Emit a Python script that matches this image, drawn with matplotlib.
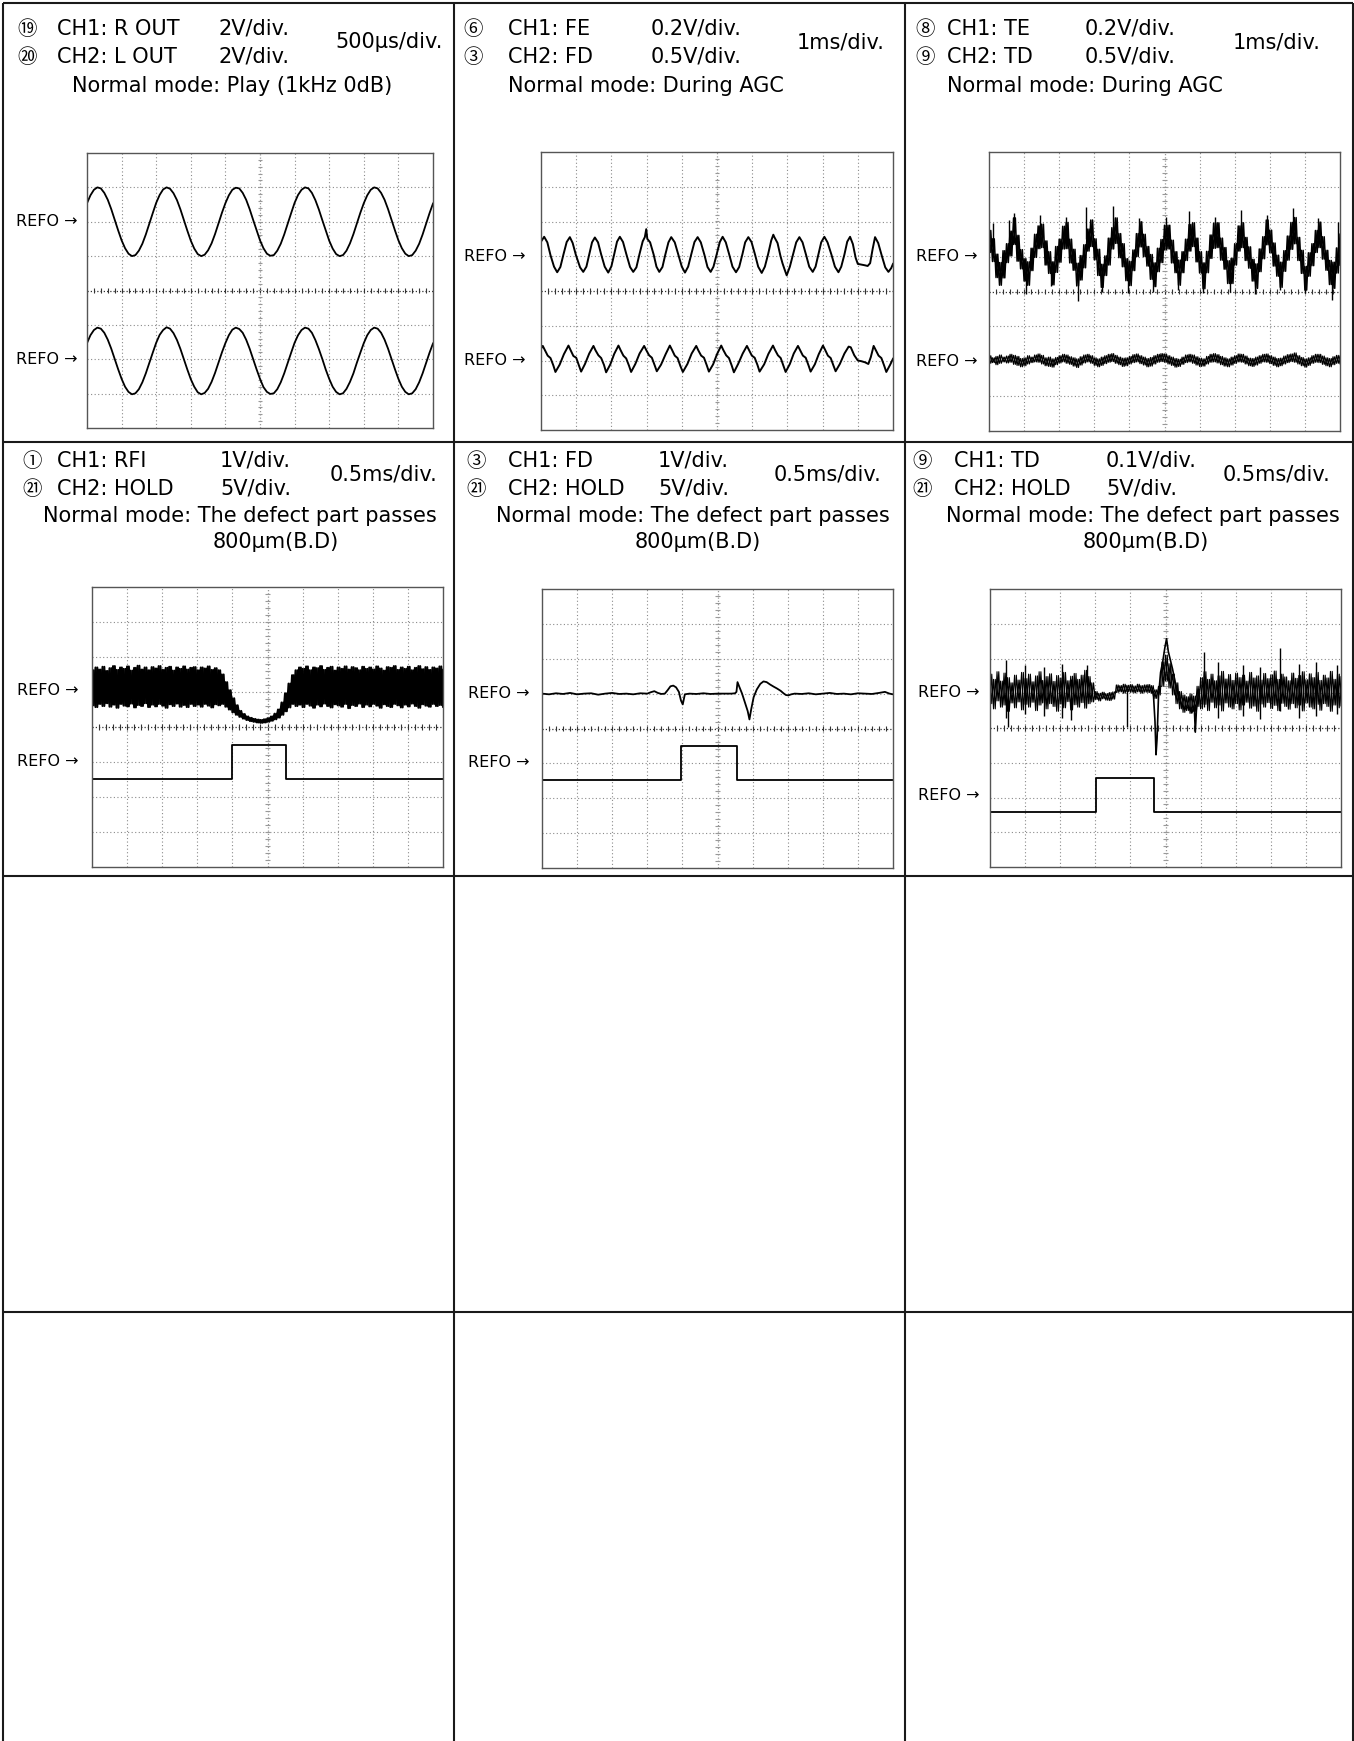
import numpy as np
import matplotlib
matplotlib.use("Agg")
from matplotlib import pyplot as plt

W, H = 1354, 1741

# ---------------- data (screen units: x 0..10 div, y -4..4 div) ----------------
# cell 1 : R OUT / L OUT, samples every 0.1 div
play_r = [2.54, 2.77, 2.93, 3.00, 2.97, 2.84, 2.64, 2.37, 2.06, 1.75, 1.46, 1.23, 1.07, 1.00, 1.03, 1.16, 1.36, 1.63, 1.94, 2.25,
          2.55, 2.78, 2.94, 3.00, 2.96, 2.83, 2.63, 2.36, 2.05, 1.74, 1.45, 1.22, 1.06, 1.00, 1.04, 1.17, 1.37, 1.64, 1.95, 2.26,
          2.54, 2.77, 2.93, 2.99, 2.97, 2.84, 2.64, 2.37, 2.06, 1.76, 1.46, 1.23, 1.07, 1.01, 1.03, 1.16, 1.36, 1.63, 1.94, 2.25,
          2.55, 2.78, 2.93, 3.00, 2.97, 2.84, 2.63, 2.36, 2.05, 1.75, 1.45, 1.22, 1.06, 1.00, 1.03, 1.16, 1.37, 1.64, 1.95, 2.26,
          2.54, 2.77, 2.93, 3.00, 2.97, 2.84, 2.64, 2.37, 2.06, 1.75, 1.46, 1.23, 1.07, 1.00, 1.03, 1.16, 1.36, 1.63, 1.94, 2.25,
          2.53]
play_l = [-1.53, -1.30, -1.15, -1.08, -1.11, -1.23, -1.43, -1.69, -1.99, -2.29, -2.57, -2.80, -2.95, -3.02, -2.99, -2.87, -2.67, -2.41, -2.11, -1.81,
          -1.52, -1.29, -1.15, -1.07, -1.11, -1.24, -1.44, -1.70, -2.00, -2.30, -2.58, -2.80, -2.96, -3.02, -2.98, -2.86, -2.66, -2.40, -2.10, -1.80,
          -1.53, -1.30, -1.14, -1.08, -1.12, -1.23, -1.43, -1.69, -1.99, -2.29, -2.57, -2.81, -2.95, -3.01, -2.99, -2.87, -2.67, -2.41, -2.11, -1.81,
          -1.52, -1.30, -1.15, -1.08, -1.11, -1.23, -1.44, -1.70, -1.99, -2.30, -2.57, -2.80, -2.95, -3.02, -2.99, -2.86, -2.66, -2.41, -2.10, -1.81,
          -1.53, -1.30, -1.15, -1.08, -1.11, -1.23, -1.43, -1.69, -1.99, -2.29, -2.57, -2.80, -2.95, -3.02, -2.99, -2.87, -2.67, -2.41, -2.11, -1.81,
          -1.54]

# cell 2 : FE (top) and FD (bottom) during AGC
fe_x = [0.00, 0.09, 0.18, 0.27, 0.37, 0.46, 0.55, 0.64, 0.73,
        0.82, 0.90, 0.99, 1.11, 1.20, 1.29, 1.37, 1.45,
        1.53, 1.62, 1.71, 1.81, 1.91, 2.00, 2.08, 2.16,
        2.24, 2.33, 2.43, 2.53, 2.62, 2.71, 2.80, 2.89,
        2.95, 2.99, 3.02, 3.10, 3.20, 3.28, 3.36, 3.45, 3.53, 3.62,
        3.70, 3.80, 3.90, 4.00, 4.09, 4.18, 4.27, 4.36,
        4.45, 4.54, 4.64, 4.73, 4.82, 4.90, 4.99, 5.08,
        5.16, 5.25, 5.35, 5.44, 5.54, 5.63, 5.72, 5.80,
        5.89, 5.98, 6.08, 6.17, 6.27, 6.36, 6.45, 6.54,
        6.60, 6.63, 6.72, 6.80, 6.86, 6.92, 6.98, 7.07, 7.16, 7.25,
        7.34, 7.43, 7.53, 7.62, 7.72, 7.80, 7.88, 7.96,
        8.05, 8.14, 8.25, 8.35, 8.45, 8.53, 8.62, 8.70,
        8.78, 8.86, 8.94, 9.00, 9.10, 9.20, 9.28, 9.35, 9.42,
        9.49, 9.58, 9.68, 9.78, 9.87, 9.95, 10.00]
fe_y = [1.42, 1.56, 1.40, 1.03, 0.70, 0.54, 0.69, 1.06, 1.41,
        1.55, 1.38, 1.04, 0.68, 0.55, 0.70, 1.05, 1.40,
        1.54, 1.40, 1.05, 0.70, 0.53, 0.71, 1.06, 1.42,
        1.56, 1.41, 1.04, 0.69, 0.55, 0.68, 1.07, 1.43,
        1.55, 1.78, 1.50, 1.40, 1.05, 0.70, 0.55, 0.69, 1.04, 1.40,
        1.55, 1.40, 1.05, 0.70, 0.53, 0.70, 1.06, 1.41,
        1.55, 1.40, 1.05, 0.69, 0.55, 0.70, 1.05, 1.41,
        1.56, 1.40, 1.04, 0.70, 0.54, 0.69, 1.05, 1.40,
        1.55, 1.41, 1.05, 0.70, 0.52, 0.70, 1.05, 1.45,
        1.62, 1.55, 1.38, 1.02, 0.80, 0.62, 0.45, 0.70, 1.05, 1.40,
        1.55, 1.40, 1.04, 0.70, 0.55, 0.70, 1.05, 1.40,
        1.56, 1.40, 1.05, 0.70, 0.54, 0.70, 1.05, 1.42,
        1.56, 1.35, 0.95, 0.78, 0.76, 0.74, 0.72, 0.80, 1.20,
        1.55, 1.38, 1.02, 0.68, 0.55, 0.66, 0.78]
fd_x = [0.00, 0.05, 0.11, 0.19, 0.27, 0.35, 0.41, 0.53, 0.65,
        0.78, 0.84, 0.92, 1.00, 1.08, 1.14, 1.25, 1.37,
        1.49, 1.55, 1.63, 1.71, 1.79, 1.85, 1.97, 2.08,
        2.20, 2.26, 2.34, 2.42, 2.50, 2.56, 2.68, 2.80,
        2.93, 2.99, 3.07, 3.15, 3.23, 3.29, 3.41, 3.54,
        3.66, 3.72, 3.80, 3.88, 3.96, 4.03, 4.16, 4.28,
        4.41, 4.47, 4.55, 4.63, 4.71, 4.77, 4.89, 5.00,
        5.12, 5.18, 5.26, 5.34, 5.42, 5.48, 5.60, 5.73,
        5.85, 5.91, 5.99, 6.07, 6.15, 6.21, 6.34, 6.46,
        6.59, 6.65, 6.73, 6.81, 6.89, 6.95, 7.07, 7.18,
        7.30, 7.36, 7.44, 7.52, 7.60, 7.66, 7.78, 7.89,
        8.01, 8.07, 8.15, 8.23, 8.31, 8.37, 8.49, 8.62,
        8.74, 8.80, 8.90, 9.00, 9.10, 9.20, 9.30, 9.37,
        9.45, 9.51, 9.59, 9.67, 9.75, 9.81, 9.92, 10.00]
fd_y = [-1.66, -1.58, -1.70, -1.86, -1.93, -2.14, -2.33, -2.12, -1.82,
        -1.57, -1.70, -1.87, -1.92, -2.15, -2.32, -2.10, -1.80,
        -1.58, -1.71, -1.85, -1.93, -2.13, -2.34, -2.11, -1.81,
        -1.57, -1.70, -1.86, -1.94, -2.15, -2.33, -2.10, -1.80,
        -1.58, -1.70, -1.85, -1.92, -2.14, -2.31, -2.12, -1.82,
        -1.57, -1.69, -1.86, -1.93, -2.16, -2.33, -2.10, -1.80,
        -1.58, -1.71, -1.86, -1.92, -2.14, -2.32, -2.11, -1.82,
        -1.57, -1.70, -1.85, -1.93, -2.15, -2.34, -2.10, -1.80,
        -1.58, -1.70, -1.86, -1.92, -2.13, -2.32, -2.11, -1.81,
        -1.57, -1.70, -1.85, -1.93, -2.16, -2.33, -2.10, -1.80,
        -1.58, -1.70, -1.86, -1.92, -2.14, -2.32, -2.11, -1.82,
        -1.57, -1.69, -1.86, -1.93, -2.15, -2.31, -2.10, -1.80,
        -1.60, -1.62, -1.85, -2.00, -2.02, -2.05, -2.10, -1.90,
        -1.58, -1.70, -1.86, -1.93, -2.15, -2.33, -2.12, -1.95]

# cell 3 : TE (noisy, top) and TD (bottom) - upper / lower noise envelope every 0.1 div
te_hi = [1.75, 1.51, 1.07, 0.83, 1.17, 1.37, 1.73, 2.11, 1.61, 1.20,
         0.94, 0.85, 1.24, 1.64, 1.88, 1.93, 1.45, 1.14, 0.85, 1.29,
         1.50, 1.87, 1.98, 1.50, 1.21, 0.81, 1.03, 1.34, 1.79, 2.05,
         1.51, 1.21, 0.78, 1.02, 1.53, 1.83, 2.11, 1.66, 1.37, 0.94,
         0.86, 1.19, 1.66, 2.00, 1.64, 1.29, 1.06, 0.82, 1.24, 1.49,
         1.90, 1.90, 1.47, 1.14, 0.90, 1.14, 1.50, 1.92, 1.97, 1.53,
         1.14, 0.82, 1.15, 1.62, 1.96, 1.97, 1.53, 1.26, 0.88, 0.95,
         1.37, 1.88, 1.97, 1.55, 1.28, 0.92, 0.79, 1.22, 1.57, 2.05,
         1.76, 1.39, 1.04, 0.84, 1.17, 1.59, 1.98, 2.12, 1.55, 1.18,
         0.72, 1.11, 1.37, 1.75, 1.99, 1.57, 1.18, 0.89, 0.84, 1.25, 1.65]
te_lo = [1.12, 0.86, 0.40, 0.18, 0.39, 0.83, 1.02, 1.35, 0.87, 0.65,
         0.30, 0.18, 0.60, 0.98, 1.23, 1.26, 0.76, 0.52, 0.19, 0.55,
         0.84, 1.22, 1.23, 0.82, 0.61, 0.16, 0.33, 0.68, 1.16, 1.29,
         0.91, 0.46, 0.12, 0.46, 0.76, 1.22, 1.38, 0.97, 0.71, 0.31,
         0.17, 0.60, 1.00, 1.28, 1.00, 0.73, 0.35, 0.14, 0.57, 0.83,
         1.20, 1.22, 0.82, 0.54, 0.18, 0.54, 0.89, 1.16, 1.29, 0.85,
         0.53, 0.08, 0.54, 0.95, 1.24, 1.26, 0.90, 0.64, 0.23, 0.23,
         0.76, 1.16, 1.26, 0.89, 0.67, 0.30, 0.09, 0.57, 0.94, 1.34,
         1.11, 0.73, 0.44, 0.12, 0.58, 0.90, 1.21, 1.37, 0.89, 0.52,
         0.04, 0.44, 0.74, 1.12, 1.26, 0.93, 0.61, 0.20, 0.09, 0.53, 0.75]
te_spike_x = [0.12, 0.58, 0.72, 1.05, 1.45, 1.78, 2.18, 2.54, 2.75, 3.21, 3.52, 3.97, 4.28, 4.68, 5.04,
              5.39, 5.70, 6.10, 6.44, 6.86, 7.18, 7.58, 7.91, 8.29, 8.67, 9.00, 9.38, 9.76, 9.95]
te_spike_lo = [1.00, 1.10, 1.40, -0.08, 1.40, 0.15, 1.50, -0.28, 1.50, 0.00, 1.60, -0.05, 1.50, 0.00, 1.60,
               0.05, 1.50, -0.05, 1.60, 0.00, 1.60, -0.08, 1.60, 0.05, 1.60, -0.05, 1.50, -0.25, 1.00]
te_spike_hi = [1.95, 2.05, 2.25, 0.50, 2.20, 0.70, 2.15, 0.40, 2.42, 0.60, 2.45, 0.50, 2.10, 0.50, 2.15,
               0.60, 2.30, 0.50, 2.15, 0.50, 2.35, 0.50, 2.20, 0.60, 2.38, 0.50, 2.10, 0.40, 2.00]
td_hi = [-1.84, -1.90, -1.86, -1.82, -1.88, -1.85, -1.80, -1.83, -1.86, -1.92,
         -1.90, -1.84, -1.88, -1.82, -1.79, -1.83, -1.90, -1.88, -1.93, -1.89,
         -1.84, -1.80, -1.82, -1.87, -1.90, -1.93, -1.87, -1.82, -1.80, -1.84,
         -1.90, -1.93, -1.88, -1.84, -1.80, -1.78, -1.83, -1.88, -1.91, -1.90,
         -1.86, -1.81, -1.79, -1.84, -1.88, -1.92, -1.89, -1.84, -1.80, -1.78,
         -1.79, -1.84, -1.88, -1.92, -1.94, -1.88, -1.82, -1.80, -1.82, -1.87,
         -1.91, -1.93, -1.86, -1.80, -1.78, -1.81, -1.86, -1.90, -1.93, -1.88,
         -1.84, -1.79, -1.80, -1.85, -1.91, -1.92, -1.88, -1.84, -1.80, -1.79,
         -1.84, -1.88, -1.92, -1.91, -1.85, -1.81, -1.79, -1.76, -1.84, -1.89,
         -1.93, -1.90, -1.84, -1.80, -1.80, -1.85, -1.90, -1.92, -1.87, -1.83, -1.84]
td_lo = [-2.06, -2.04, -2.10, -2.06, -2.02, -2.05, -2.03, -2.09, -2.12, -2.16,
         -2.13, -2.08, -2.04, -2.02, -2.03, -2.08, -2.13, -2.15, -2.17, -2.10,
         -2.05, -2.02, -2.06, -2.09, -2.14, -2.18, -2.11, -2.05, -2.02, -2.06,
         -2.12, -2.16, -2.12, -2.07, -2.03, -2.01, -2.06, -2.10, -2.15, -2.13,
         -2.08, -2.04, -2.02, -2.07, -2.11, -2.16, -2.14, -2.08, -2.03, -2.01,
         -2.03, -2.08, -2.12, -2.17, -2.15, -2.09, -2.04, -2.02, -2.06, -2.11,
         -2.15, -2.14, -2.08, -2.03, -2.02, -2.05, -2.10, -2.14, -2.16, -2.11,
         -2.06, -2.02, -2.03, -2.08, -2.13, -2.15, -2.11, -2.06, -2.02, -2.03,
         -2.07, -2.12, -2.16, -2.13, -2.08, -2.04, -2.01, -2.03, -2.08, -2.13,
         -2.17, -2.12, -2.06, -2.03, -2.04, -2.09, -2.13, -2.16, -2.10, -2.06, -2.08]

# cell 4 : RFI envelope (every 0.1 div) and HOLD
rfi_hi = [1.62, 1.70, 1.64, 1.72, 1.60, 1.68, 1.74, 1.63, 1.70, 1.66,
          1.73, 1.61, 1.69, 1.75, 1.64, 1.70, 1.62, 1.71, 1.67, 1.74,
          1.63, 1.69, 1.72, 1.61, 1.70, 1.66, 1.73, 1.64, 1.69, 1.71,
          1.62, 1.70, 1.67, 1.73, 1.63, 1.68, 1.62, 1.50, 1.28, 1.05,
          0.82, 0.62, 0.46, 0.37, 0.30, 0.26, 0.23, 0.21, 0.20, 0.22,
          0.25, 0.30, 0.38, 0.50, 0.70, 0.96, 1.24, 1.48, 1.62, 1.70,
          1.66, 1.73, 1.62, 1.70, 1.68, 1.74, 1.63, 1.69, 1.72, 1.61,
          1.70, 1.66, 1.73, 1.64, 1.71, 1.68, 1.62, 1.72, 1.66, 1.70,
          1.64, 1.73, 1.67, 1.61, 1.71, 1.69, 1.74, 1.63, 1.70, 1.66,
          1.72, 1.62, 1.69, 1.74, 1.65, 1.71, 1.63, 1.70, 1.67, 1.73, 1.64]
rfi_lo = [0.62, 0.57, 0.66, 0.60, 0.68, 0.58, 0.64, 0.55, 0.66, 0.61,
          0.59, 0.67, 0.56, 0.63, 0.60, 0.68, 0.57, 0.64, 0.59, 0.66,
          0.61, 0.55, 0.65, 0.60, 0.67, 0.58, 0.63, 0.57, 0.66, 0.60,
          0.64, 0.58, 0.66, 0.61, 0.56, 0.65, 0.62, 0.66, 0.58, 0.50,
          0.42, 0.35, 0.29, 0.24, 0.20, 0.17, 0.15, 0.13, 0.12, 0.13,
          0.15, 0.18, 0.22, 0.27, 0.35, 0.45, 0.56, 0.66, 0.60, 0.64,
          0.57, 0.66, 0.61, 0.55, 0.64, 0.59, 0.67, 0.60, 0.56, 0.65,
          0.62, 0.58, 0.66, 0.54, 0.63, 0.60, 0.67, 0.57, 0.64, 0.59,
          0.66, 0.61, 0.55, 0.65, 0.60, 0.57, 0.66, 0.62, 0.56, 0.64,
          0.59, 0.67, 0.60, 0.55, 0.65, 0.61, 0.58, 0.66, 0.60, 0.63, 0.57]
hold_rfi = (3.99, 5.53, -1.49, -0.51)   # rise, fall, low, high

# cell 5 : FD when the defect passes
fd2_x = [0.0, 0.2, 0.4, 0.6, 0.8, 1.0, 1.2, 1.4, 1.6, 1.8,
         2.0, 2.2, 2.4, 2.6, 2.8, 3.0, 3.1, 3.2, 3.3, 3.4,
         3.5, 3.58, 3.66, 3.74, 3.82, 3.90, 3.96, 4.01, 4.07, 4.2,
         4.4, 4.6, 4.8, 5.0, 5.2, 5.4, 5.50, 5.54, 5.57, 5.62,
         5.70, 5.78, 5.86, 5.91, 5.96, 6.03, 6.12, 6.22, 6.31, 6.40,
         6.50, 6.60, 6.69, 6.80, 6.88, 6.95, 7.02, 7.10, 7.2, 7.4,
         7.6, 7.8, 8.0, 8.2, 8.4, 8.6, 8.8, 9.0, 9.2, 9.4,
         9.6, 9.77, 9.9, 10.0]
fd2_y = [1.00, 0.98, 1.01, 0.99, 1.02, 0.98, 1.00, 1.01, 0.97, 1.00,
         1.02, 0.99, 1.00, 0.98, 1.01, 1.00, 1.04, 1.07, 1.02, 0.99,
         1.00, 1.10, 1.21, 1.23, 1.18, 1.05, 0.80, 0.69, 0.98, 1.00,
         0.99, 1.01, 0.99, 1.00, 1.00, 1.00, 1.01, 1.05, 1.33, 1.20,
         1.00, 0.75, 0.50, 0.26, 0.55, 0.90, 1.12, 1.28, 1.35, 1.33,
         1.26, 1.20, 1.15, 1.08, 1.01, 0.96, 0.95, 0.98, 1.00, 0.99,
         1.01, 0.98, 1.00, 1.02, 0.99, 1.00, 0.98, 1.01, 1.00, 0.99,
         1.02, 1.05, 1.00, 0.98]
hold_fd = (3.96, 5.55, -1.48, -0.51)

# cell 6 : TD when the defect passes
td2_hi = [1.55, 1.40, 1.62, 1.35, 1.58, 1.45, 1.30, 1.52, 1.38, 1.60,
          1.42, 1.55, 1.33, 1.50, 1.62, 1.37, 1.48, 1.56, 1.34, 1.51,
          1.44, 1.60, 1.36, 1.49, 1.57, 1.40, 1.52, 1.66, 1.48, 1.30,
          1.05, 1.00, 1.03, 0.99, 1.02, 1.04, 1.24, 1.22, 1.26, 1.23,
          1.25, 1.21, 1.26, 1.22, 1.24, 1.25, 1.22, 1.10, 1.20, 1.90,
          2.10, 1.85, 1.55, 1.30, 1.05, 0.95, 0.90, 0.98, 0.92, 1.20,
          1.45, 1.62, 1.40, 1.55, 1.36, 1.50, 1.63, 1.41, 1.54, 1.37,
          1.58, 1.45, 1.52, 1.35, 1.60, 1.44, 1.50, 1.38, 1.57, 1.42,
          1.53, 1.64, 1.40, 1.55, 1.47, 1.36, 1.58, 1.43, 1.51, 1.62,
          1.39, 1.56, 1.45, 1.60, 1.37, 1.52, 1.44, 1.63, 1.40, 1.55, 1.48]
td2_lo = [0.70, 0.55, 0.78, 0.60, 0.66, 0.48, 0.72, 0.58, 0.75, 0.52,
          0.68, 0.60, 0.74, 0.50, 0.66, 0.72, 0.55, 0.70, 0.62, 0.48,
          0.69, 0.58, 0.76, 0.52, 0.67, 0.60, 0.73, 0.57, 0.70, 0.75,
          0.82, 0.78, 0.84, 0.80, 0.79, 0.83, 1.02, 1.04, 1.00, 1.05,
          1.03, 1.01, 1.04, 1.00, 1.03, 1.02, 1.00, 0.85, 0.95, 1.20,
          1.35, 1.15, 0.95, 0.70, 0.55, 0.45, 0.50, 0.42, 0.48, 0.62,
          0.55, 0.68, 0.50, 0.74, 0.58, 0.66, 0.49, 0.72, 0.60, 0.55,
          0.70, 0.52, 0.66, 0.74, 0.57, 0.63, 0.48, 0.69, 0.60, 0.73,
          0.56, 0.65, 0.50, 0.71, 0.62, 0.54, 0.70, 0.58, 0.66, 0.49,
          0.72, 0.60, 0.55, 0.68, 0.51, 0.70, 0.62, 0.48, 0.66, 0.58, 0.63]
td2_ev_x = [4.62, 4.66, 4.70, 4.73, 4.76, 4.80, 4.86, 4.92, 4.98, 5.03, 5.08, 5.14,
            5.20, 5.28, 5.36, 5.45, 5.55, 5.65, 5.75, 5.82, 5.85, 5.88, 5.95]
td2_ev_y = [1.12, 0.90, 0.20, -0.77, -0.30, 0.90, 1.60, 1.90, 2.30, 2.57, 2.20, 1.95,
            1.70, 1.30, 0.95, 0.70, 0.55, 0.60, 0.45, 0.60, -0.12, 0.50, 1.10]
td2_spike_x = [0.45, 0.52, 1.00, 1.55, 2.05, 2.32, 2.77, 3.89, 6.09, 6.50, 7.20, 7.70, 8.27, 8.80, 9.30, 9.90]
td2_spike_lo = [0.30, 0.04, 0.40, 0.35, 0.30, 0.23, 0.90, 0.04, 0.60, 0.30, 0.35, 0.25, 0.50, 0.30, 0.35, 0.40]
td2_spike_hi = [1.96, 1.20, 1.80, 1.75, 1.85, 1.40, 1.81, 1.10, 2.20, 1.90, 1.80, 1.75, 2.30, 1.85, 1.90, 1.80]
hold_td = (3.02, 4.67, -2.42, -1.45)

# header texts
marks = [("⑲", "⑳"), ("⑥", "③"), ("⑧", "⑨"), ("①", "㉑"), ("③", "㉑"), ("⑨", "㉑")]
channels = [("CH1: R OUT", "CH2: L OUT"), ("CH1: FE", "CH2: FD"), ("CH1: TE", "CH2: TD"),
            ("CH1: RFI", "CH2: HOLD"), ("CH1: FD", "CH2: HOLD"), ("CH1: TD", "CH2: HOLD")]
volts = [("2V/div.", "2V/div."), ("0.2V/div.", "0.5V/div."), ("0.2V/div.", "0.5V/div."),
         ("1V/div.", "5V/div."), ("1V/div.", "5V/div."), ("0.1V/div.", "5V/div.")]
timebase = ["500µs/div.", "1ms/div.", "1ms/div.", "0.5ms/div.", "0.5ms/div.", "0.5ms/div."]
modes = [["Normal mode: Play (1kHz 0dB)"], ["Normal mode: During AGC"], ["Normal mode: During AGC"],
         ["Normal mode: The defect part passes", "800µm(B.D)"],
         ["Normal mode: The defect part passes", "800µm(B.D)"],
         ["Normal mode: The defect part passes", "800µm(B.D)"]]
refo_levels = [(2.0, -2.0), (1.0, -2.0), (1.0, -2.0), (1.05, -1.0), (1.0, -0.97), (1.03, -1.94)]

# ---------------- layout ----------------
plt.rcParams['font.family'] = ['DejaVu Sans', 'Noto Sans CJK JP']
MARK_FONT = ['Noto Sans CJK JP', 'DejaVu Sans']

col_x = [3, 454, 905, 1352.5]
row_y = [3, 442, 876, 1312]
screens = [(87, 153, 433, 428), (541, 152, 893, 430), (989, 152, 1340, 431),
           (92, 587, 443, 867), (542, 589, 893, 868), (990, 589, 1341, 867)]
# x of: mark, channel, volts, timebase, mode line 1, mode line 2
text_x = [(17, 57, 218, 335, 72, 0), (463, 508, 651, 797, 508, 0), (915, 947, 1085, 1233, 947, 0),
          (22, 57, 220, 330, 43, 213), (466, 508, 658, 774, 496, 635), (912, 954, 1106, 1223, 946, 1083)]
refo_gap = [9, 16, 12, 14, 13, 11]

fig = plt.figure(figsize=(W / 100, H / 100), dpi=100)
bg = fig.add_axes([0, 0, 1, 1])
bg.set_xlim(0, W)
bg.set_ylim(H, 0)
bg.axis('off')

for x in col_x:
    bg.plot([x, x], [row_y[0], H], color='#1a1a1a', lw=1.5, solid_capstyle='butt')
for y in row_y:
    bg.plot([col_x[0], col_x[-1]], [y, y], color='#1a1a1a', lw=1.5, solid_capstyle='butt')


def screen(box):
    x0, y0, x1, y1 = box
    ax = fig.add_axes([x0 / W, 1 - y1 / H, (x1 - x0) / W, (y1 - y0) / H])
    ax.set_xlim(0, 10)
    ax.set_ylim(-4, 4)
    ax.set_xticks([])
    ax.set_yticks([])
    ax.patch.set_alpha(0)
    for s in ax.spines.values():
        s.set_color('#555555')
        s.set_linewidth(1.0)
    for g in range(1, 10):
        if g != 5:
            ax.axvline(g, color='#8a8a8a', lw=0.8, ls=(0, (1, 2.2)))
    for g in range(-3, 4):
        if g != 0:
            ax.axhline(g, color='#8a8a8a', lw=0.8, ls=(0, (1, 2.2)))
    ax.axhline(0, color='#333333', lw=0.9, ls=(0, (1, 1.6)))
    ax.axvline(5, color='#999999', lw=0.9, ls=(0, (1, 1.6)))
    ax.vlines(np.arange(0.2, 10, 0.2), -0.08, 0.08, color='#333333', lw=0.8)
    ax.hlines(np.arange(-3.8, 4, 0.2), 4.93, 5.07, color='#999999', lw=0.8)
    return ax


def zigzag(ax, hi, lo, lw=1.0, both=True):
    # trace swinging between the read upper and lower noise envelope
    t = np.arange(len(hi)) * 0.1
    zx = np.empty(2 * len(hi))
    zx[0::2] = t
    zx[1::2] = t + 0.05
    pairs = ((hi, lo), (lo, hi)) if both else ((hi, lo),)
    for a, b in pairs:
        zy = np.empty(2 * len(hi))
        zy[0::2] = a
        zy[1::2] = b
        ax.plot(zx, zy, color='black', lw=lw)


def hold(ax, edges):
    rise, fall, low, high = edges
    ax.plot([0, rise, rise, fall, fall, 10], [low, low, high, high, low, low], color='black', lw=1.3)


axes = [screen(b) for b in screens]
t01 = np.arange(len(play_r)) * 0.1

# cell 1
axes[0].plot(t01, play_r, color='black', lw=1.3)
axes[0].plot(t01, play_l, color='black', lw=1.3)
# cell 2
axes[1].plot(fe_x, fe_y, color='black', lw=1.4)
axes[1].plot(fd_x, fd_y, color='black', lw=1.4)
# cell 3
zigzag(axes[2], te_hi, te_lo, lw=1.1)
axes[2].vlines(te_spike_x, te_spike_lo, te_spike_hi, color='black', lw=1.0)
zigzag(axes[2], td_hi, td_lo, lw=0.8)
# cell 4
zigzag(axes[3], rfi_hi, rfi_lo, lw=1.5)
hold(axes[3], hold_rfi)
# cell 5
axes[4].plot(fd2_x, fd2_y, color='black', lw=1.3)
hold(axes[4], hold_fd)
# cell 6
zigzag(axes[5], td2_hi, td2_lo, lw=0.8)
axes[5].plot(td2_ev_x, td2_ev_y, color='black', lw=1.2)
axes[5].vlines(td2_spike_x, td2_spike_lo, td2_spike_hi, color='black', lw=1.0)
hold(axes[5], hold_td)

for ax, levels, gap, box in zip(axes, refo_levels, refo_gap, screens):
    for lv in levels:
        ax.text(-gap / (box[2] - box[0]), lv, "REFO →", transform=ax.get_yaxis_transform(),
                ha='right', va='center', fontsize=11.5, clip_on=False)

# header texts
for i in range(6):
    row = i // 3
    if row == 0:
        base = [35, 63, 92]
        tb = 48
    else:
        base = [467, 495, 522, 548]
        tb = 480
    xm, xc, xv, xt, xn, xn2 = text_x[i]
    for k in range(2):
        bg.text(xm, base[k], marks[i][k], fontsize=14, family=MARK_FONT, va='baseline', ha='left')
        bg.text(xc, base[k], channels[i][k], fontsize=15, va='baseline', ha='left')
        bg.text(xv, base[k], volts[i][k], fontsize=15, va='baseline', ha='left')
    bg.text(xt, tb, timebase[i], fontsize=15, va='baseline', ha='left')
    bg.text(xn, base[2], modes[i][0], fontsize=15, va='baseline', ha='left')
    if len(modes[i]) > 1:
        bg.text(xn2, base[3], modes[i][1], fontsize=15, va='baseline', ha='left')

fig.savefig('out.png', dpi=100)
